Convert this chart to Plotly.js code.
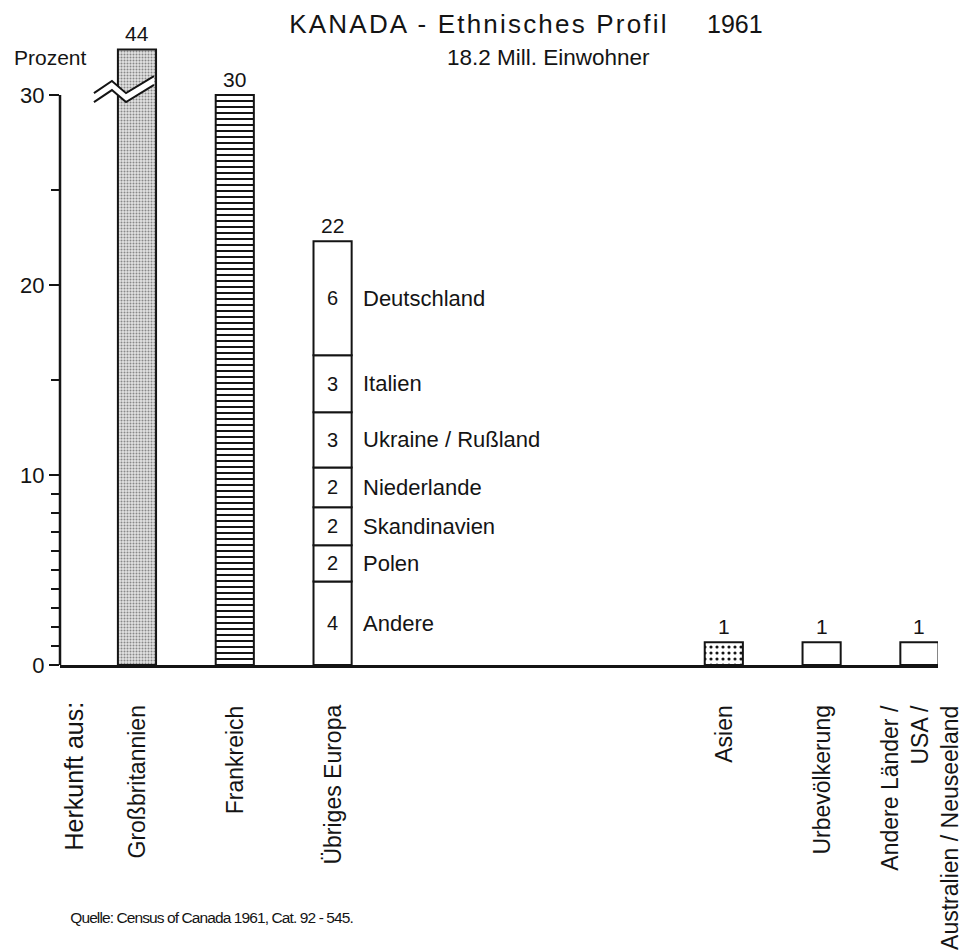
<!DOCTYPE html>
<html><head><meta charset="utf-8">
<script src="https://cdn.plot.ly/plotly-3.0.1.min.js"></script>
<style>
html,body{margin:0;padding:0;background:#fff;}
#chart{width:967px;height:952px;}
#chart .gtitle {letter-spacing:2.2px;}
#chart .annotation[data-index="0"] .annotation-text{letter-spacing:-0.9px;}
</style></head><body><div id="chart"></div>
<script>
// ---- data ----
const categories = ["Großbritannien", "Frankreich", "Übriges Europa", "Asien", "Urbevölkerung", "Andere Länder /<br>USA /<br>Australien / Neuseeland"];
const positions = [1, 2, 3, 7, 8, 9];
const printedValues = [44, 30, 22, 1, 1, 1];
const barValues = [44, 30, 22.3, 1.2, 1.2, 1.2];
const axisBreakAt = 32.4;               // Großbritannien bar is cut here
const europeParts = ["Andere", "Polen", "Skandinavien", "Niederlande", "Ukraine / Rußland", "Italien", "Deutschland"];
const europeValues = [4.4, 1.9, 2.0, 2.1, 2.9, 3.0, 6.0];
const europeLabels = [4, 2, 2, 2, 3, 3, 6];
const yTickVals = [0, 10, 20, 30];
const yMinorVals = [1, 2, 3, 4, 5, 6, 7, 8, 9, 15, 25];

// ---- layout helpers ----
const FONT = "Liberation Sans, Arial, Helvetica, sans-serif";
const INK = "#141414";
const BW = 0.39;
const L = 60, R = 938, T = 20, B = 665;
const xp = px => (px - L) / (R - L);
const yp = py => (B - py) / (B - T);
const shown = v => Math.min(v, axisBreakAt);

const outline = {color: INK, width: 2};
const traces = [];
// Großbritannien
traces.push({type: "bar", x: [positions[0]], y: [shown(barValues[0])], width: BW,
  marker: {color: "#dcdcdc", line: outline,
    pattern: {shape: ".", size: 3, solidity: 0.35, fgcolor: "#888", bgcolor: "#e2e2e2"}},
  hoverinfo: "skip"});
// Frankreich
traces.push({type: "bar", x: [positions[1]], y: [shown(barValues[1])], width: BW,
  marker: {color: "white", line: outline,
    pattern: {shape: "-", size: 6, solidity: 0.33, fgcolor: INK, bgcolor: "white"}},
  hoverinfo: "skip"});
// Übriges Europa – segments
const bases = [];
let acc = 0;
europeValues.forEach(v => { bases.push(acc); acc += v; });
traces.push({type: "bar", x: europeValues.map(() => positions[2]), y: europeValues, base: bases, width: BW,
  marker: {color: "white", line: outline}, hoverinfo: "skip"});
// Asien
traces.push({type: "bar", x: [positions[3]], y: [barValues[3]], width: BW,
  marker: {color: "white", line: outline,
    pattern: {shape: ".", size: 6, solidity: 0.22, fgcolor: INK, bgcolor: "white"}},
  hoverinfo: "skip"});
// Urbevölkerung, Andere
traces.push({type: "bar", x: positions.slice(4), y: barValues.slice(4), width: BW,
  marker: {color: "white", line: outline}, hoverinfo: "skip"});

const ann = [];
// 0: source
ann.push({xref: "paper", yref: "paper", x: xp(48), y: yp(917), xanchor: "left", yanchor: "middle",
  text: "Quelle: Census of Canada 1961, Cat. 92 - 545.", showarrow: false,
  font: {family: FONT, size: 15.5, color: INK}});
// subtitle, year, Prozent
ann.push({xref: "paper", yref: "paper", x: xp(548), y: yp(57), xanchor: "center", yanchor: "middle",
  text: "18.2 Mill. Einwohner", showarrow: false, font: {family: FONT, size: 22.5, color: INK}});
ann.push({xref: "paper", yref: "paper", x: xp(735), y: yp(24), xanchor: "center", yanchor: "middle",
  text: "1961", showarrow: false, font: {family: FONT, size: 25, color: INK}});
ann.push({xref: "paper", yref: "paper", x: xp(12), y: yp(57), xanchor: "left", yanchor: "middle",
  text: "Prozent", showarrow: false, font: {family: FONT, size: 21, color: INK}});
// value labels above bars
positions.forEach((p, i) => {
  const top = i === 2 ? acc : shown(barValues[i]);
  ann.push({x: p, y: top, xanchor: "center", yanchor: "middle", yshift: 16,
    text: String(printedValues[i]), showarrow: false, font: {family: FONT, size: 21, color: INK}});
});
// segment numbers and names
europeValues.forEach((v, i) => {
  const mid = bases[i] + v / 2;
  ann.push({x: positions[2], y: mid, xanchor: "center", yanchor: "middle",
    text: String(europeLabels[i]), showarrow: false, font: {family: FONT, size: 20, color: INK}});
  ann.push({x: positions[2] + BW / 2, y: mid, xanchor: "left", yanchor: "middle", xshift: 9,
    text: europeParts[i], showarrow: false, font: {family: FONT, size: 22, color: INK}});
});
// category labels (rotated)
ann.push({x: 0.346, xref: "x", yref: "paper", y: yp(700), xanchor: "center", yanchor: "top", textangle: -90,
  text: "Herkunft aus:", showarrow: false, font: {family: FONT, size: 25, color: INK}});
categories.forEach((c, i) => {
  ann.push({x: positions[i], xref: "x", yref: "paper", y: yp(703), xanchor: "center", yanchor: "top", textangle: -90, align: "right",
    text: c, showarrow: false, font: {family: FONT, size: 23, color: INK}});
});

// axis break on the Großbritannien bar
const xc = positions[0];
const bx = [-0.44, -0.256, -0.112, 0.174].map(d => xc + d);
const upY = [30.1, 30.74, 30.1, 31.0];
const loY = [29.63, 30.26, 29.63, 30.53];
const pathOf = (xs, ys) => xs.map((x, i) => (i ? "L" : "M") + x + "," + ys[i]).join(" ");
const fillPath = pathOf(bx, upY) + " " + pathOf(bx.slice().reverse(), loY.slice().reverse()).replace("M", "L") + " Z";

const shapes = [
  {type: "line", xref: "paper", yref: "y", x0: 0, x1: 0, y0: 0, y1: yTickVals[yTickVals.length - 1],
    line: {color: INK, width: 2.5}, layer: "above"},
  {type: "path", xref: "x", yref: "y", path: fillPath, fillcolor: "white", line: {width: 0}, layer: "above"},
  {type: "path", xref: "x", yref: "y", path: pathOf(bx, upY), line: {color: INK, width: 2}, layer: "above"},
  {type: "path", xref: "x", yref: "y", path: pathOf(bx, loY), line: {color: INK, width: 2}, layer: "above"}
];

const layout = {
  width: 967, height: 952,
  margin: {l: L, r: 967 - R, t: T, b: 952 - B, pad: 0},
  paper_bgcolor: "white", plot_bgcolor: "white",
  showlegend: false, barmode: "overlay",
  title: {text: "KANADA - Ethnisches Profil", font: {family: FONT, size: 26, color: INK},
    xref: "container", yref: "container", x: 479 / 967, y: 1 - 24 / 952, xanchor: "center", yanchor: "middle"},
  xaxis: {range: [0.213, 9.19], showgrid: false, zeroline: false, showticklabels: false, ticks: "",
    showline: true, linecolor: INK, linewidth: 3, fixedrange: true},
  yaxis: {range: [0, 33.95], showgrid: false, zeroline: false, showline: false,
    tickmode: "array", tickvals: yTickVals, ticktext: yTickVals.map(String),
    ticks: "outside", ticklen: 10, tickwidth: 2, tickcolor: INK,
    tickfont: {family: FONT, size: 22, color: INK},
    minor: {tickmode: "array", tickvals: yMinorVals, ticks: "outside", ticklen: 8, tickwidth: 2, tickcolor: INK, showgrid: false},
    fixedrange: true},
  annotations: ann,
  shapes: shapes
};

Plotly.newPlot("chart", traces, layout, {staticPlot: true, displayModeBar: false});
</script></body></html>
